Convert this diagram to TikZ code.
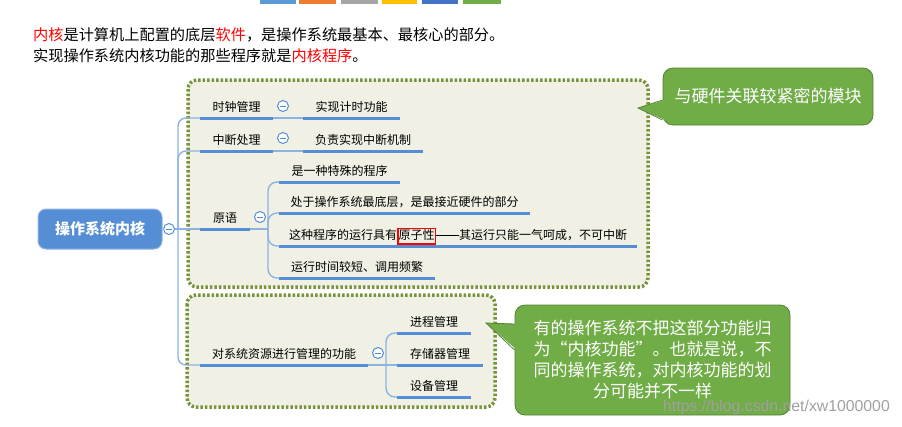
\documentclass[tikz,border=0pt]{standalone}
\usepackage{fontspec}
\setmainfont{Noto Sans CJK SC}
\newfontfamily\wmfont{Liberation Sans}
\definecolor{ubar}{RGB}{85,142,213}
\definecolor{branchc}{RGB}{141,179,226}
\definecolor{framegreen}{RGB}{119,147,60}
\definecolor{framefill}{RGB}{240,241,228}
\definecolor{callgreen}{RGB}{112,173,71}
\definecolor{callborder}{RGB}{84,130,53}
\definecolor{rootblue}{RGB}{85,142,213}
\definecolor{barA}{RGB}{91,155,213}
\definecolor{barB}{RGB}{237,125,49}
\definecolor{barC}{RGB}{165,165,165}
\definecolor{barD}{RGB}{255,192,0}
\definecolor{barE}{RGB}{68,114,196}
\definecolor{barF}{RGB}{112,173,71}
\definecolor{wmgray}{RGB}{160,160,160}
\newcommand\myredbox[1]{{\setlength\fboxrule{1.5pt}\setlength\fboxsep{0pt}\fcolorbox{red}{framefill}{\rule[-4pt]{0pt}{14pt}#1}}}
\newcommand\mylongdash{\rule[3.8pt]{23pt}{0.8pt}}
\begin{document}
\begin{tikzpicture}[x=1pt,y=-1pt,
  topic/.style={font=\fontsize{12}{14}\selectfont, text height=9pt, text depth=3pt,
    inner xsep=0pt, inner ysep=3.4pt, anchor=south},
  uline/.style={draw=ubar, line width=3pt},
  branch/.style={draw=branchc, line width=1.4pt},
  collapse/.style={circle, draw=ubar, fill=white, line width=1pt, minimum size=11pt, inner sep=0pt,
    path picture={\draw[ubar, line width=1pt] ([xshift=-2.6pt]path picture bounding box.center) -- ([xshift=2.6pt]path picture bounding box.center);}},
  frame/.style={draw=framegreen, fill=framefill, line width=3.5pt, dash pattern=on 2.5pt off 2pt, rounded corners=9pt},
  callout/.style={draw=callborder, fill=callgreen, line width=0.8pt, rounded corners=10pt, text=white,
    font=\fontsize{17}{21}\selectfont, align=center, inner sep=0pt},
  rootnode/.style={draw=branchc, fill=rootblue, line width=1pt, rounded corners=8pt, text=white,
    font=\bfseries\fontsize{15}{18}\selectfont, minimum width=124pt, minimum height=40pt}
]
\useasboundingbox (0,0) rectangle (902,426);

% top colour bars
\fill[barA] (260,0) rectangle (296,4);
\fill[barB] (299,0) rectangle (336,4);
\fill[barC] (341,0) rectangle (378,4);
\fill[barD] (382,0) rectangle (417,4);
\fill[barE] (422,0) rectangle (458,4);
\fill[barF] (463,0) rectangle (501,4);

% intro text
\node[anchor=base west, inner sep=0pt, font=\fontsize{15.2}{21}\selectfont] (t1) at (33,40.8)
  {\textcolor{red}{内核}是计算机上配置的底层\textcolor{red}{软件}，是操作系统最基本、最核心的部分。};
\node[anchor=base west, inner sep=0pt, font=\fontsize{15.2}{21}\selectfont] (t2) at (33,61.8)
  {实现操作系统内核功能的那些程序就是\textcolor{red}{内核程序}。};

% frames
\path[frame] (188,80) rectangle (648,287);
\path[frame] (187,295) rectangle (495,407);

% root
\node[rootnode] (root) at (100,229) {操作系统内核};
\node[collapse] (b0) at (169,229) {};

% topics
\node[topic, minimum width=73pt] (ck) at (236.5,118) {时钟管理};
\node[topic, minimum width=97pt] (ckc) at (351.5,118) {实现计时功能};
\node[topic, minimum width=73pt] (zd) at (236.5,151) {中断处理};
\node[topic, minimum width=120pt] (zdc) at (363,151) {负责实现中断机制};
\node[topic, minimum width=50pt] (yy) at (225,229) {原语};
\node[topic, minimum width=121pt] (y1) at (339.5,182) {是一种特殊的程序};
\node[topic, minimum width=251pt] (y2) at (404.5,213) {处于操作系统最底层，是最接近硬件的部分};
\node[topic, minimum width=358pt] (y3) at (458,246) {这种程序的运行具有\myredbox{原子性}\mylongdash 其运行只能一气呵成，不可中断};
\node[topic, minimum width=156pt] (y4) at (357,278) {运行时间较短、调用频繁};
\node[topic, minimum width=168pt] (dx) at (284,365) {对系统资源进行管理的功能};
\node[topic, minimum width=74pt] (d1) at (434,333) {进程管理};
\node[topic, minimum width=86pt] (d2) at (440,365) {存储器管理};
\node[topic, minimum width=74pt] (d3) at (434,397) {设备管理};

% branches
\coordinate (tr) at (178,229);
\coordinate (ys) at (268,229);
\coordinate (ds) at (386,365);
\draw[branch] (root.east) -- (b0.west);
\draw[branch] (b0.east) -- (yy.south west);
\draw[branch, rounded corners=8pt] (tr) |- (ck.south west);
\draw[branch, rounded corners=8pt] (tr) |- (zd.south west);
\draw[branch, rounded corners=8pt] (tr) |- (dx.south west);
\draw[branch] (ck.south east) -- (ckc.south west);
\draw[branch] (zd.south east) -- (zdc.south west);
\draw[branch] (yy.south east) -- (ys);
\foreach \c in {y1,y2,y3,y4} \draw[branch, rounded corners=9pt] (ys) |- (\c.south west);
\draw[branch] (dx.south east) -- (d2.south west);
\draw[branch, rounded corners=9pt] (ds) |- (d1.south west);
\draw[branch, rounded corners=9pt] (ds) |- (d3.south west);

% underlines
\foreach \n in {ck,ckc,zd,zdc,yy,y1,y2,y3,y4,dx,d1,d2,d3}
  \draw[uline] (\n.south west) -- (\n.south east);

% collapse buttons
\node[collapse] (b1) at (283,106) {};
\node[collapse] (b2) at (283,138) {};
\node[collapse] (b3) at (260,217) {};
\node[collapse] (b4) at (378,353) {};

% callout 1
\node[callout, minimum width=210pt, minimum height=57pt] (c1) at (768,96.5) {与硬件关联较紧密的模块};
\coordinate (p1) at (638,108);
\fill[callgreen] (p1) -- (665,100) -- (665,120) -- cycle;
\draw[callborder, line width=0.8pt] (c1.west |- 0,100) -- (p1) -- (c1.west |- 0,120);

% callout 2
\node[callout, minimum width=275pt, minimum height=110pt] (c2) at (652.5,360)
  {有的操作系统不把这部分功能归\\为“内核功能”。也就是说，不\\同的操作系统，对内核功能的划\\分可能并不一样};
\coordinate (p2) at (486,323);
\fill[callgreen] (p2) -- (517,324) -- (517,350) -- cycle;
\draw[callborder, line width=0.8pt] (c2.west |- 0,324) -- (p2) -- (c2.west |- 0,350);

% watermark
\node[anchor=base west, inner sep=0pt, text=wmgray, font=\wmfont\fontsize{15.8}{18}\selectfont] (wm) at (663,411) {https://blog.csdn.net/xw1000000};
\end{tikzpicture}
\end{document}
